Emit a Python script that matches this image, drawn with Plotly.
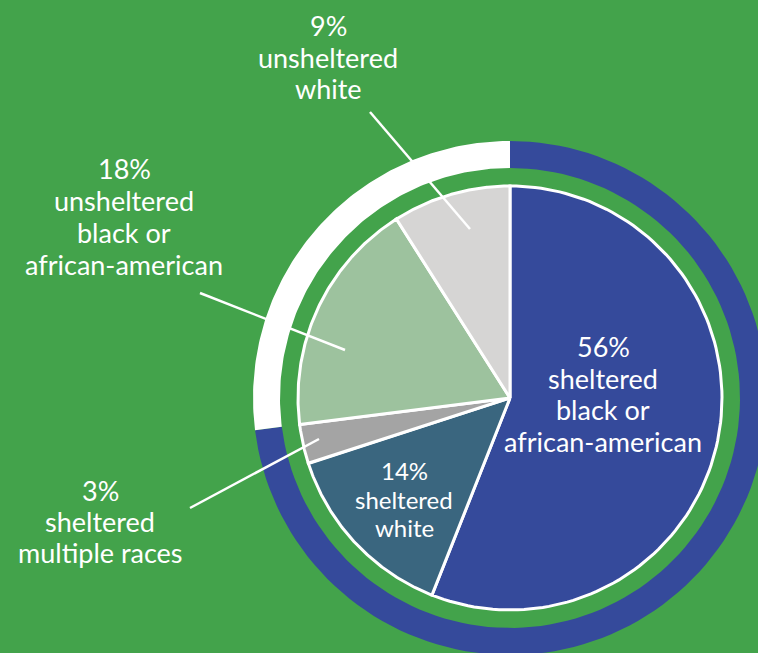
import numpy as np
import plotly.graph_objects as go

# ---- data ----
categories = ["sheltered black or african-american", "sheltered white",
              "sheltered multiple races", "unsheltered black or african-american",
              "unsheltered white"]
values = [56, 14, 3, 18, 9]
groups = ["sheltered", "sheltered", "sheltered", "unsheltered", "unsheltered"]
labels = ["56%<br>sheltered<br>black or<br>african-american",
          "14%<br>sheltered<br>white",
          "3%<br>sheltered<br>multiple races",
          "18%<br>unsheltered<br>black or<br>african-american",
          "9%<br>unsheltered<br>white"]
ring_groups = ["sheltered", "unsheltered"]
ring_values = [sum(v for v, g in zip(values, groups) if g == rg) for rg in ring_groups]

# ---- style ----
W, H = 758, 653
CX, CY, R = 510, 398, 212          # pie centre / radius in pixels
RING_IN, RING_OUT = 230 / R, 257 / R
BG = "#43a34b"
slice_colors = ["#354a9b", "#3a667f", "#a4a4a4", "#9dc29e", "#d6d5d4"]
ring_colors = ["#354a9b", "#ffffff"]
FONT = "Lato"


def P(xp, yp):
    return (xp - CX) / R, (CY - yp) / R


def arc(r, a0, a1, n=120):
    t = np.radians(np.linspace(a0, a1, n))
    return r * np.sin(t), r * np.cos(t)


fig = go.Figure()

# outer ring
total = sum(ring_values)
start = 0.0
for g, v, c in zip(ring_groups, ring_values, ring_colors):
    a0, a1 = start / total * 360, (start + v) / total * 360
    xo, yo = arc(RING_OUT, a0, a1)
    xi, yi = arc(RING_IN, a1, a0)
    fig.add_trace(go.Scatter(x=np.concatenate([xo, xi]), y=np.concatenate([yo, yi]),
                             fill="toself", fillcolor=c, mode="lines",
                             line=dict(width=0, color=c), hoverinfo="skip",
                             showlegend=False, name=g))
    start += v

# pie slices
total = sum(values)
start = 0.0
for cat, v, c in zip(categories, values, slice_colors):
    a0, a1 = start / total * 360, (start + v) / total * 360
    xa, ya = arc(1.0, a0, a1)
    fig.add_trace(go.Scatter(x=np.concatenate([[0], xa, [0]]), y=np.concatenate([[0], ya, [0]]),
                             fill="toself", fillcolor=c, mode="lines",
                             line=dict(width=3, color="white"), hoverinfo="skip",
                             showlegend=False, name=cat))
    start += v

# labels: (centre x px, centre y px, font size, line spacing px)
label_pos = [(603, 394, 27, 31.7), (404, 499, 24, 28.5), (100, 521, 27, 31),
             (124, 216, 27, 32), (328, 57, 27, 31.5)]
for txt, (xp, yp, fs, ls) in zip(labels, label_pos):
    lines = txt.split("<br>")
    n = len(lines)
    for i, ln in enumerate(lines):
        x, y = P(xp, yp + (i - (n - 1) / 2) * ls)
        fig.add_annotation(x=x, y=y, text=ln, showarrow=False, xanchor="center", yanchor="middle",
                           font=dict(family=FONT, size=fs, color="white"))

# leader lines
leaders = [((370, 112), (470, 229)), ((200, 293), (345, 350)), ((190, 508), (319, 439))]
for (p0, p1) in leaders:
    x0, y0 = P(*p0)
    x1, y1 = P(*p1)
    fig.add_shape(type="line", x0=x0, y0=y0, x1=x1, y1=y1, line=dict(color="white", width=2.5))

fig.update_layout(
    width=W, height=H, margin=dict(l=0, r=0, t=0, b=0),
    paper_bgcolor=BG, plot_bgcolor=BG, showlegend=False,
    xaxis=dict(range=[-CX / R, (W - CX) / R], visible=False, fixedrange=True),
    yaxis=dict(range=[-(H - CY) / R, CY / R], visible=False, fixedrange=True),
)
fig.write_html("out.html")
